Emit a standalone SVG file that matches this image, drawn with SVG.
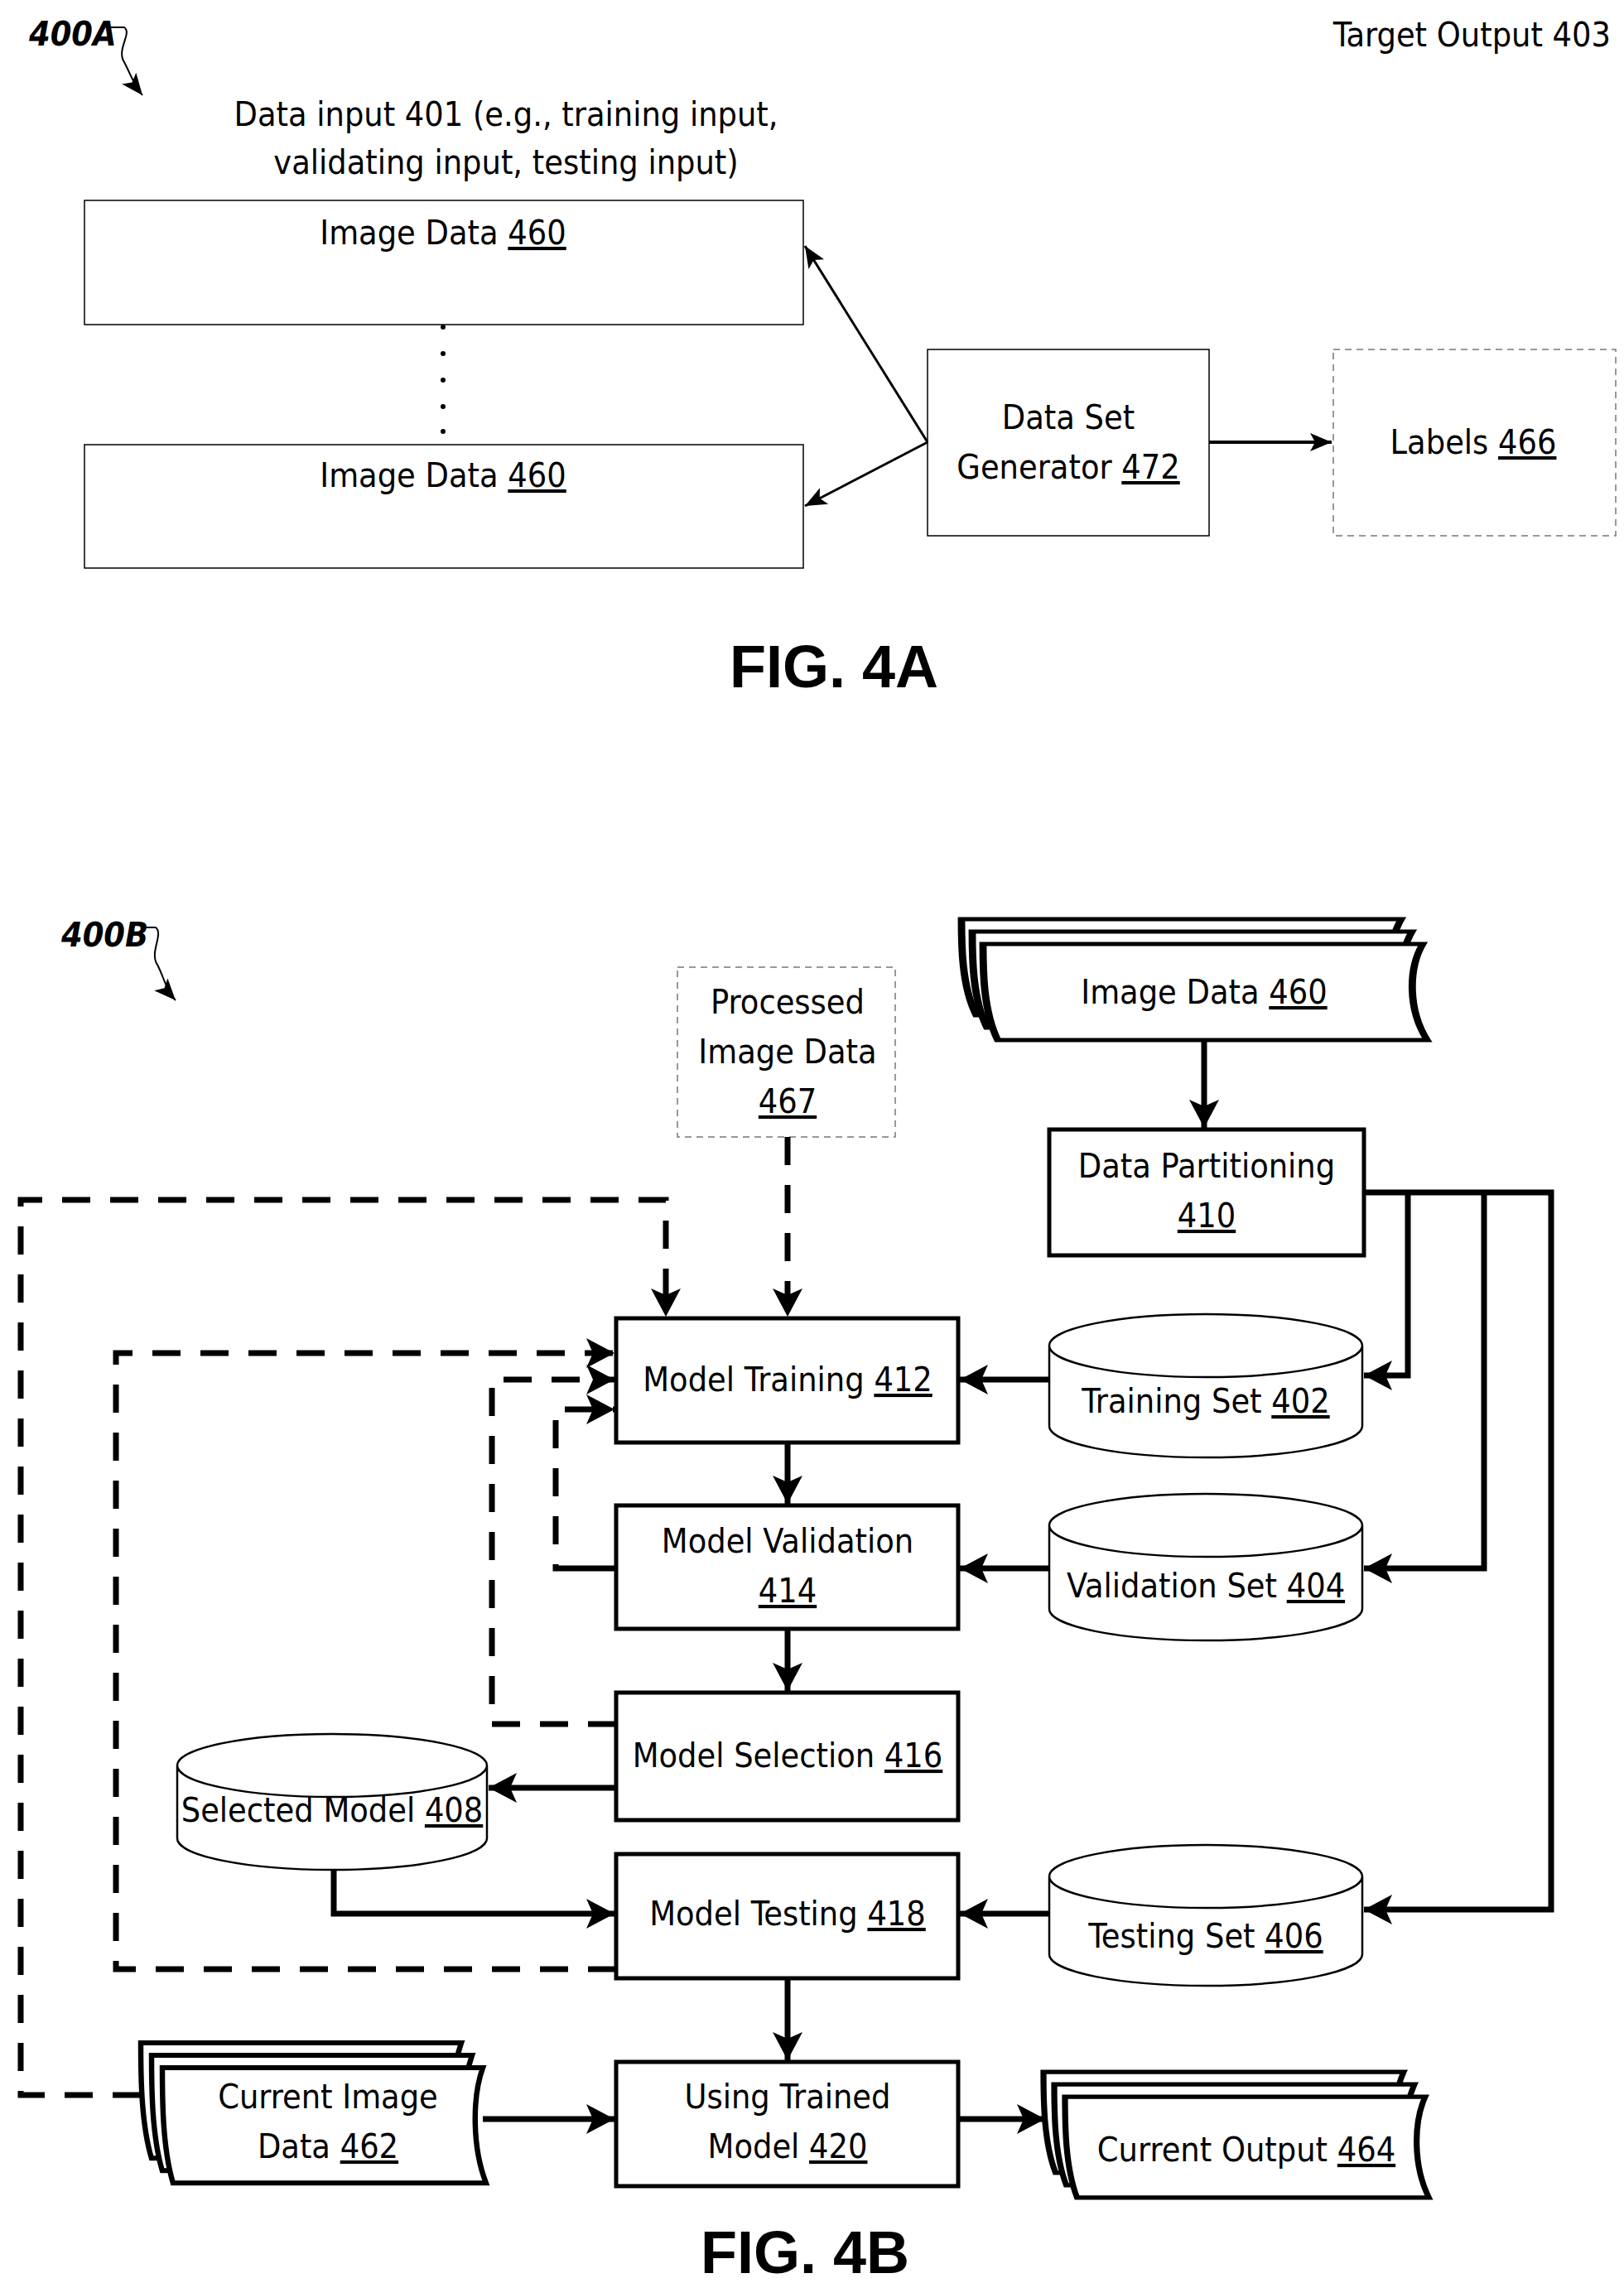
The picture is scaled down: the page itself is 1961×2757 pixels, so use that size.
<svg xmlns="http://www.w3.org/2000/svg" width="1961" height="2757" viewBox="0 0 1961 2757">
<style>
text{font-family:"Liberation Sans Narrow","DejaVu Sans Condensed","Liberation Sans",sans-serif;font-size:41px;fill:#000;text-anchor:middle}
.u{text-decoration:underline}
.thin{fill:#fff;stroke:#000;stroke-width:1.5}
.dthin{fill:#fff;stroke:#777;stroke-width:1.5;stroke-dasharray:8 6}
.box{fill:#fff;stroke:#000;stroke-width:5}
.cyl{fill:#fff;stroke:#000;stroke-width:2.5}
.ln{fill:none;stroke:#000;stroke-width:7}
.dl{fill:none;stroke:#000;stroke-width:7;stroke-dasharray:34 24}
.bold{font-family:"Liberation Sans",sans-serif;font-weight:bold;font-size:72px}
</style>
<defs>
<marker id="a" markerUnits="userSpaceOnUse" markerWidth="40" markerHeight="40" refX="34" refY="20" orient="auto"><path d="M0,2 L34,20 L0,38 L8,20Z" fill="#000"/></marker>
<marker id="t" markerUnits="userSpaceOnUse" markerWidth="30" markerHeight="30" refX="26" refY="15" orient="auto"><path d="M0,4 L26,15 L0,26 L6,15Z" fill="#000"/></marker>
<path id="doc" d="M0,0 H300 C290,30 290,80 303,116 H10 C0,80 0,30 0,0Z"/>
</defs>

<!-- FIG 4A -->
<g id="label400A"><text x="35" y="55" style="font-style:italic;font-weight:bold;text-anchor:start" font-size="40">400A</text>
<path d="M134,33 H150 C160,40 140,60 150,75 C158,90 160,100 172,115" fill="none" stroke="#000" stroke-width="2" marker-end="url(#t)"/></g>
<text x="1945" y="56" style="text-anchor:end">Target Output 403</text>
<text x="611" y="152">Data input 401 (e.g., training input,</text>
<text x="611" y="210">validating input, testing input)</text>
<g id="img1"><rect class="thin" x="102" y="242" width="868" height="150"/><text x="535" y="295">Image Data <tspan class="u">460</tspan></text></g>
<g id="dots" fill="#000"><circle cx="535" cy="395" r="3"/><circle cx="535" cy="427" r="3"/><circle cx="535" cy="459" r="3"/><circle cx="535" cy="491" r="3"/><circle cx="535" cy="521" r="3"/></g>
<g id="img2"><rect class="thin" x="102" y="537" width="868" height="149"/><text x="535" y="588">Image Data <tspan class="u">460</tspan></text></g>
<g id="dsg"><rect class="thin" x="1120" y="422" width="340" height="225"/><text x="1290" y="518">Data Set</text><text x="1290" y="578">Generator <tspan class="u">472</tspan></text></g>
<g id="labels"><rect class="dthin" x="1610" y="422" width="341" height="225"/><text x="1779" y="548">Labels <tspan class="u">466</tspan></text></g>
<g id="conn4A" fill="none" stroke="#000">
<path d="M1120,534 L972,297" stroke-width="3" marker-end="url(#t)"/>
<path d="M1120,534 L972,611" stroke-width="3" marker-end="url(#t)"/>
<path d="M1460,534 H1608" stroke-width="4" marker-end="url(#t)"/>
</g>
<text class="bold" x="1007" y="830">FIG. 4A</text>

<!-- FIG 4B -->
<g id="label400B"><text x="74" y="1143" style="font-style:italic;font-weight:bold;text-anchor:start" font-size="40">400B</text>
<path d="M172,1120 H188 C198,1128 180,1150 190,1165 C198,1180 200,1195 212,1208" fill="none" stroke="#000" stroke-width="2" marker-end="url(#t)"/></g>

<g id="pid"><rect class="dthin" x="818" y="1168" width="263" height="205"/><text x="951" y="1224">Processed</text><text x="951" y="1284">Image Data</text><text x="951" y="1344" class="u">467</text></g>

<g id="imgdata460" stroke="#000" stroke-width="5" fill="#fff">
<use href="#doc" transform="translate(1161,1110) scale(1.77,1)"/>
<use href="#doc" transform="translate(1174,1125) scale(1.77,1)"/>
<use href="#doc" transform="translate(1187,1140) scale(1.77,1)"/>
<text x="1454" y="1212" stroke="none">Image Data <tspan class="u">460</tspan></text></g>

<g id="dp"><rect class="box" x="1267" y="1364" width="380" height="152"/><text x="1457" y="1422">Data Partitioning</text><text x="1457" y="1482" class="u">410</text></g>
<g id="mt"><rect class="box" x="744" y="1592" width="413" height="150"/><text x="951" y="1680">Model Training <tspan class="u">412</tspan></text></g>
<g id="mv"><rect class="box" x="744" y="1818" width="413" height="149"/><text x="951" y="1875">Model Validation</text><text x="951" y="1935" class="u">414</text></g>
<g id="ms"><rect class="box" x="744" y="2044" width="413" height="154"/><text x="951" y="2134">Model Selection <tspan class="u">416</tspan></text></g>
<g id="mte"><rect class="box" x="744" y="2239" width="413" height="150"/><text x="951" y="2325">Model Testing <tspan class="u">418</tspan></text></g>
<g id="utm"><rect class="box" x="744" y="2490" width="413" height="150"/><text x="951" y="2546">Using Trained</text><text x="951" y="2606">Model <tspan class="u">420</tspan></text></g>

<g id="ts"><path class="cyl" d="M1267,1625 A189,38 0 0 1 1645,1625 V1722 A189,38 0 0 1 1267,1722Z M1267,1625 A189,38 0 0 0 1645,1625"/><text x="1456" y="1706">Training Set <tspan class="u">402</tspan></text></g>
<g id="vs"><path class="cyl" d="M1267,1842 A189,38 0 0 1 1645,1842 V1943 A189,38 0 0 1 1267,1943Z M1267,1842 A189,38 0 0 0 1645,1842"/><text x="1456" y="1929">Validation Set <tspan class="u">404</tspan></text></g>
<g id="tes"><path class="cyl" d="M1267,2266 A189,38 0 0 1 1645,2266 V2360 A189,38 0 0 1 1267,2360Z M1267,2266 A189,38 0 0 0 1645,2266"/><text x="1456" y="2352">Testing Set <tspan class="u">406</tspan></text></g>
<g id="sm"><path class="cyl" d="M214,2132 A187,38 0 0 1 588,2132 V2220 A187,38 0 0 1 214,2220Z M214,2132 A187,38 0 0 0 588,2132"/><text x="401" y="2200">Selected Model <tspan class="u">408</tspan></text></g>

<g id="cid" stroke="#000" stroke-width="5" fill="#fff">
<use href="#doc" transform="translate(170,2467) scale(1.29,1.2)"/>
<use href="#doc" transform="translate(183,2482) scale(1.29,1.2)"/>
<use href="#doc" transform="translate(196,2497) scale(1.29,1.2)"/>
<text x="396" y="2546" stroke="none">Current Image</text><text x="396" y="2606" stroke="none">Data <tspan class="u">462</tspan></text></g>
<g id="co" stroke="#000" stroke-width="5" fill="#fff">
<use href="#doc" transform="translate(1260,2502) scale(1.45,1.05)"/>
<use href="#doc" transform="translate(1273,2517) scale(1.45,1.05)"/>
<use href="#doc" transform="translate(1286,2532) scale(1.45,1.05)"/>
<text x="1505" y="2610" stroke="none">Current Output <tspan class="u">464</tspan></text></g>

<g id="connectors">
<path class="ln" d="M1454,1256 V1362" marker-end="url(#a)"/>
<path class="ln" d="M1647,1440 H1873 V2306 H1647" marker-end="url(#a)"/>
<path class="ln" d="M1700,1440 V1661 H1647" marker-end="url(#a)"/>
<path class="ln" d="M1792,1440 V1894 H1647" marker-end="url(#a)"/>
<path class="ln" d="M1267,1666 H1159" marker-end="url(#a)"/>
<path class="ln" d="M1267,1894 H1159" marker-end="url(#a)"/>
<path class="ln" d="M1267,2311 H1159" marker-end="url(#a)"/>
<path class="ln" d="M951,1742 V1816" marker-end="url(#a)"/>
<path class="ln" d="M951,1967 V2042" marker-end="url(#a)"/>
<path class="ln" d="M744,2159 H590" marker-end="url(#a)"/>
<path class="ln" d="M403,2258 V2311 H742" marker-end="url(#a)"/>
<path class="ln" d="M951,2389 V2488" marker-end="url(#a)"/>
<path class="ln" d="M583,2559 H742" marker-end="url(#a)"/>
<path class="ln" d="M1157,2559 H1262" marker-end="url(#a)"/>
<path class="dl" d="M170,2530 H25 V1449 H804 V1590" marker-end="url(#a)"/>
<path class="dl" d="M951,1373 V1590" marker-end="url(#a)"/>
<path class="dl" d="M744,2378 H140 V1634 H742" marker-end="url(#a)"/>
<path class="dl" d="M744,2082 H594 V1666 H742" marker-end="url(#a)"/>
<path class="ln" d="M744,1894 H700"/>
<path class="dl" d="M700,1894 H671 V1702 H742" marker-end="url(#a)"/>
</g>
<text class="bold" x="972" y="2745">FIG. 4B</text>
</svg>
